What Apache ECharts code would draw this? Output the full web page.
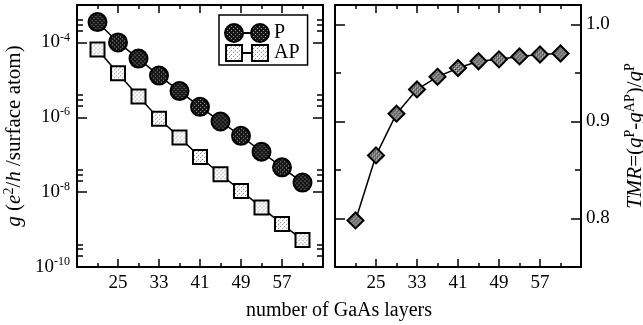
<!DOCTYPE html>
<html><head><meta charset="utf-8">
<script src="https://cdn.jsdelivr.net/npm/echarts@6/dist/echarts.min.js"></script>
<style>html,body{margin:0;padding:0;background:#fff}#c{width:643px;height:325px}</style>
</head><body><div id="c"></div>
<script>
// ---- data ----
const layers = [21, 25, 29, 33, 37, 41, 45, 49, 53, 57, 61];
const gP  = [3.5e-4, 1.0e-4, 3.7e-5, 1.3e-5, 5.0e-6, 1.9e-6, 7.7e-7, 3.2e-7, 1.2e-7, 4.6e-8, 1.8e-8];
const gAP = [6.5e-5, 1.5e-5, 3.6e-6, 9.2e-7, 2.9e-7, 8.7e-8, 3.0e-8, 1.08e-8, 3.9e-9, 1.4e-9, 5.3e-10];
const tmr = [0.798, 0.865, 0.908, 0.933, 0.946, 0.955, 0.962, 0.964, 0.967, 0.969, 0.970];
const xMajorTicks = [25, 33, 41, 49, 57];
const xMinorTicks = [21, 29, 37, 45, 53, 61];
const gMajorTicks = [1e-10, 1e-8, 1e-6, 1e-4];
const gMinorTicks = [2e-10, 3e-10, 4e-10, 2e-8, 3e-8, 4e-8, 2e-6, 3e-6, 4e-6, 2e-4, 3e-4, 4e-4];
const tmrMajorTicks = [0.8, 0.9, 1.0];
const tmrMinorTicks = [0.85, 0.95];
const seriesNames = ['P', 'AP'];

// ---- styling helpers ----
const FONT = 'Liberation Serif';
function pattern(bg, dots, scale) {
  const c = document.createElement('canvas'); c.width = 4; c.height = 4;
  const x = c.getContext('2d'); x.fillStyle = bg; x.fillRect(0, 0, 4, 4);
  dots.forEach(d => { x.fillStyle = d[2]; x.fillRect(d[0], d[1], 1, 1); });
  const p = { image: c, repeat: 'repeat' };
  if (scale) { p.scaleX = scale; p.scaleY = scale; }
  return p;
}
const dotsP = [[0,0,'#a0a0a0'],[2,2,'#a0a0a0']];
const dotsAP = [[0,0,'#8a8a8a'],[2,2,'#8a8a8a'],[1,3,'#cccccc']];
const dotsT = [[0,0,'#d0d0d0'],[2,2,'#d0d0d0'],[1,1,'#333'],[3,3,'#333']];
const SIZE_P = 18, SIZE_AP = 14, SIZE_T = 16;

const log10 = v => Math.log10(v);
const lineBlack = { lineStyle: { color: '#000', width: 2 } };
const tickStyle = { color: '#000', width: 1.5 };

function tickAxis(extra) {
  return Object.assign({
    type: 'value', splitLine: { show: false }, axisLine: { show: false },
    axisLabel: { show: false }, axisPointer: { show: false }, silent: true
  }, extra);
}
function xAxesFor(grid) {
  const base = { gridIndex: grid, min: 17, max: 65 };
  return [
    tickAxis(Object.assign({}, base, { position: 'bottom', axisLine: Object.assign({ show: true }, lineBlack),
      axisTick: { inside: true, length: 8, customValues: xMajorTicks, lineStyle: tickStyle },
      axisLabel: { show: true, customValues: xMajorTicks, color: '#000', fontFamily: FONT, fontSize: 19, margin: 7 } })),
    tickAxis(Object.assign({}, base, { position: 'bottom',
      axisTick: { inside: true, length: 4, customValues: xMinorTicks, lineStyle: tickStyle } })),
    tickAxis(Object.assign({}, base, { position: 'top', axisLine: Object.assign({ show: true }, lineBlack),
      axisTick: { inside: true, length: 8, customValues: xMajorTicks, lineStyle: tickStyle } })),
    tickAxis(Object.assign({}, base, { position: 'top',
      axisTick: { inside: true, length: 4, customValues: xMinorTicks, lineStyle: tickStyle } }))
  ];
}

const gMajLog = gMajorTicks.map(log10);
const gMinLog = gMinorTicks.map(log10);
const yAxes = [
  // 0: log axis used by the conductance series
  { type: 'log', logBase: 10, gridIndex: 0, min: 1e-10, max: 1e-3, position: 'left',
    splitLine: { show: false }, axisLine: Object.assign({ show: true }, lineBlack),
    axisTick: { show: false }, axisLabel: { show: false }, minorTick: { show: false } },
  // 1-4: decade tick axes (log10 units) for the left panel
  tickAxis({ gridIndex: 0, min: -10, max: -3, position: 'left',
    axisTick: { inside: true, length: 10, customValues: gMajLog, lineStyle: tickStyle },
    axisLabel: { show: true, customValues: gMajLog, margin: 7, color: '#000', fontFamily: FONT, fontSize: 19,
      formatter: v => '{b|10}{s|' + Math.round(v) + '}',
      rich: { b: { fontFamily: FONT, fontSize: 19, color: '#000' },
              s: { fontFamily: FONT, fontSize: 12, color: '#000', padding: [0, 0, 10, 0] } } },
    name: '{i|g} ({i|e}{s|2}/{i|h} /surface atom)', nameLocation: 'middle', nameRotate: 90, nameGap: 51,
    nameTextStyle: { fontFamily: FONT, fontSize: 21, color: '#000',
      rich: { i: { fontFamily: FONT, fontSize: 21, fontStyle: 'italic', color: '#000' },
              s: { fontFamily: FONT, fontSize: 14, color: '#000', padding: [0, 0, 10, 0] } } } }),
  tickAxis({ gridIndex: 0, min: -10, max: -3, position: 'left',
    axisTick: { inside: true, length: 6, customValues: gMinLog, lineStyle: tickStyle } }),
  tickAxis({ gridIndex: 0, min: -10, max: -3, position: 'right', axisLine: Object.assign({ show: true }, lineBlack),
    axisTick: { inside: true, length: 10, customValues: gMajLog, lineStyle: tickStyle } }),
  tickAxis({ gridIndex: 0, min: -10, max: -3, position: 'right',
    axisTick: { inside: true, length: 6, customValues: gMinLog, lineStyle: tickStyle } }),
  // 5: TMR axis (right panel, labels on right)
  tickAxis({ gridIndex: 1, min: 0.75, max: 1.02, position: 'right', axisLine: Object.assign({ show: true }, lineBlack),
    axisTick: { inside: true, length: 10, customValues: tmrMajorTicks, lineStyle: tickStyle },
    axisLabel: { show: true, customValues: tmrMajorTicks, margin: 5, color: '#000', fontFamily: FONT, fontSize: 19,
      formatter: v => v.toFixed(1) },
    name: '{i|TMR}=({i|g}{s|P}-{i|g}{s|AP})/{i|g}{s|P}', nameLocation: 'middle', nameRotate: 90, nameGap: 42,
    nameTextStyle: { fontFamily: FONT, fontSize: 21, color: '#000',
      rich: { i: { fontFamily: FONT, fontSize: 21, fontStyle: 'italic', color: '#000' },
              s: { fontFamily: FONT, fontSize: 14, color: '#000', padding: [0, 0, 10, 0] } } } }),
  tickAxis({ gridIndex: 1, min: 0.75, max: 1.02, position: 'right',
    axisTick: { inside: true, length: 6, customValues: tmrMinorTicks, lineStyle: tickStyle } }),
  tickAxis({ gridIndex: 1, min: 0.75, max: 1.02, position: 'left', axisLine: Object.assign({ show: true }, lineBlack),
    axisTick: { inside: true, length: 10, customValues: tmrMajorTicks, lineStyle: tickStyle } }),
  tickAxis({ gridIndex: 1, min: 0.75, max: 1.02, position: 'left',
    axisTick: { inside: true, length: 6, customValues: tmrMinorTicks, lineStyle: tickStyle } })
];

const circIcon = 'path://M0,9A9,9,0,1,1,18,9A9,9,0,1,1,0,9ZM18,9L26,9M26,9A9,9,0,1,1,44,9A9,9,0,1,1,26,9Z';
const sqIcon = 'path://M1,1L17,1L17,17L1,17ZM17,9L27,9M27,1L43,1L43,17L27,17ZM0,0M44,18';

const chart = echarts.init(document.getElementById('c'), null, { renderer: 'canvas' });
chart.setOption({
  animation: false,
  backgroundColor: '#fff',
  grid: [
    { left: 77, top: 5, width: 246, height: 262, outerBoundsMode: 'none', containLabel: false },
    { left: 335, top: 5, width: 246, height: 262, outerBoundsMode: 'none', containLabel: false }
  ],
  xAxis: xAxesFor(0).concat(xAxesFor(1)),
  yAxis: yAxes,
  legend: {
    left: 219, top: 15, orient: 'vertical', padding: [8, 8, 2, 5], itemGap: 0,
    itemWidth: 44, itemHeight: 18, borderColor: '#000', borderWidth: 1.5, borderRadius: 0,
    backgroundColor: '#fff',
    textStyle: { fontFamily: FONT, fontSize: 20, color: '#000' },
    data: [
      { name: seriesNames[0], icon: circIcon, itemStyle: { color: pattern('#151515', dotsP), borderColor: '#000', borderWidth: 2 } },
      { name: seriesNames[1], icon: sqIcon, itemStyle: { color: pattern('#ffffff', dotsAP), borderColor: '#000', borderWidth: 2 } }
    ]
  },
  graphic: [
    { type: 'text', x: 339, y: 311, style: { text: 'number of GaAs layers', fontFamily: FONT, fontSize: 20,
      fill: '#000', align: 'center', verticalAlign: 'middle' } }
  ],
  series: [
    { name: seriesNames[0], type: 'line', xAxisIndex: 0, yAxisIndex: 0,
      data: layers.map((x, i) => [x, gP[i]]), symbol: 'circle', symbolSize: SIZE_P,
      itemStyle: { color: pattern('#151515', dotsP, 2 / SIZE_P), borderColor: '#000', borderWidth: 2 },
      lineStyle: { color: '#000', width: 1.5 }, z: 3 },
    { name: seriesNames[1], type: 'line', xAxisIndex: 0, yAxisIndex: 0,
      data: layers.map((x, i) => [x, gAP[i]]), symbol: 'rect', symbolSize: SIZE_AP,
      itemStyle: { color: pattern('#ffffff', dotsAP, 2 / SIZE_AP), borderColor: '#000', borderWidth: 2 },
      lineStyle: { color: '#000', width: 1.5 }, z: 3 },
    { name: 'TMR', type: 'line', xAxisIndex: 4, yAxisIndex: 5,
      data: layers.map((x, i) => [x, tmr[i]]), symbol: 'diamond', symbolSize: SIZE_T,
      itemStyle: { color: pattern('#7a7a7a', dotsT, 2 / SIZE_T), borderColor: '#000', borderWidth: 2 },
      lineStyle: { color: '#000', width: 1.5 }, z: 3 }
  ]
});
</script></body></html>
